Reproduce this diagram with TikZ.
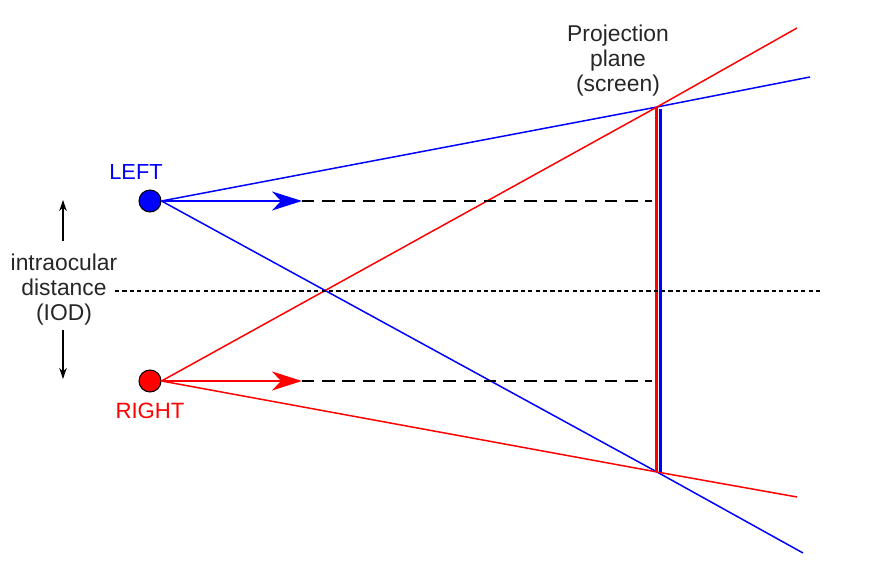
\documentclass[tikz,border=0pt]{standalone}
\usepackage{fontspec}
\setmainfont{Liberation Sans}
\usetikzlibrary{arrows.meta}
\definecolor{eyeblue}{RGB}{0,0,255}
\definecolor{eyered}{RGB}{255,0,0}

\begin{document}
\begin{tikzpicture}[x=0.02cm, y=-0.02cm,
  ray/.style={line width=0.85pt},
  eye/.style={circle, draw=black, line width=0.6pt, inner sep=0pt, minimum size=0.44cm},
  lbl/.style={font=\fontsize{13}{14.2}\selectfont, align=center},
  aim/.style={-{Stealth[length=0.6cm, width=0.38cm, inset=0.18cm]}},
  sight/.style={line width=0.7pt, dash pattern=on 7pt off 4.5pt},
  small/.style={line width=0.7pt, -{Stealth[length=0.22cm, width=0.15cm]}}]
  \useasboundingbox (0,0) rectangle (870,567);

  %% eyes and labels
  \node[eye, fill=eyeblue] (lefteye) at (150,201) {};
  \node[eye, fill=eyered] (righteye) at (150,381) {};
  \node[lbl, text=eyeblue, font=\fontsize{12.4}{14}\selectfont] (lefttxt) at (136,172) {LEFT};
  \node[lbl, text=eyered, font=\fontsize{12.6}{14}\selectfont] (righttxt) at (150,411) {RIGHT};
  \node[lbl, text=black!85] (iod) at (64,290) {intraocular\\distance\\(IOD)};
  \node[lbl, text=black!85] (plane) at (618,61) {Projection\\plane\\(screen)};

  %% screen corners and free ends
  \coordinate (scrtop) at (657,107);
  \coordinate (scrbot) at (657,472);
  \coordinate (bluehi) at (810,77);
  \coordinate (bluelo) at (803,553);
  \coordinate (redhi) at (797,28);
  \coordinate (redlo) at (797,497);

  %% rays through the screen edges
  \draw[ray, eyeblue] (lefteye.east) -- (scrtop) -- (bluehi);
  \draw[ray, eyeblue] (lefteye.east) -- (scrbot) -- (bluelo);
  \draw[ray, eyered] (righteye.east) -- (scrtop) -- (redhi);
  \draw[ray, eyered] (righteye.east) -- (scrbot) -- (redlo);

  %% screen
  \draw[line width=2.2pt, eyered] (656.5,107) -- (656.5,472);
  \draw[line width=2.2pt, eyeblue] (660.5,109) -- (660.5,472);

  %% view directions
  \coordinate (leftaim) at (302,201);
  \coordinate (leftend) at (652,201);
  \coordinate (rightaim) at (302,381);
  \coordinate (rightend) at (652,381);
  \draw[sight] (leftaim) -- (leftend);
  \draw[sight] (rightaim) -- (rightend);
  \draw[ray, eyeblue, aim] (lefteye.east) -- (leftaim);
  \draw[ray, eyered, aim] (righteye.east) -- (rightaim);

  %% middle line
  \coordinate (midl) at (115,291);
  \coordinate (midr) at (820,291);
  \draw[line width=0.7pt, dash pattern=on 2.4pt off 1.8pt] (midl) -- (midr);

  %% IOD arrows
  \coordinate (iodtop) at (63,241);
  \coordinate (iodup) at (63,200);
  \coordinate (iodbot) at (63,330);
  \coordinate (ioddown) at (63,379);
  \draw[small] (iodtop) -- (iodup);
  \draw[small] (iodbot) -- (ioddown);
\end{tikzpicture}
\end{document}
